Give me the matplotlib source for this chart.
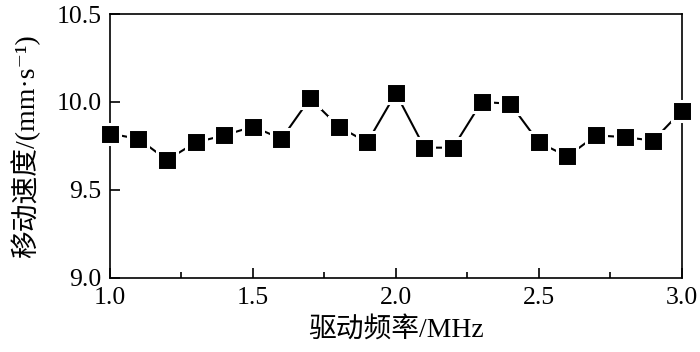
import matplotlib
matplotlib.use('Agg')
import matplotlib.pyplot as plt
from matplotlib.ticker import MultipleLocator

plt.rcParams['font.family'] = ['Liberation Serif', 'Noto Sans CJK SC', 'DejaVu Serif']

# drive frequency (MHz) and moving speed (mm/s)
freq = [1.0, 1.1, 1.2, 1.3, 1.4, 1.5, 1.6, 1.7, 1.8, 1.9, 2.0,
        2.1, 2.2, 2.3, 2.4, 2.5, 2.6, 2.7, 2.8, 2.9, 3.0]
speed = [9.82, 9.79, 9.67, 9.77, 9.81, 9.86, 9.79, 10.02, 9.86, 9.77, 10.05,
         9.74, 9.74, 10.00, 9.99, 9.77, 9.69, 9.81, 9.80, 9.78, 9.95]

fig = plt.figure(figsize=(7, 3.52), dpi=100)
ax = fig.add_axes([0.157, 0.211, 0.817, 0.749])

# white marker edge gives the small gap between line and squares
ax.plot(freq, speed, '-', color='black', lw=1.5, marker='s', ms=14,
        mfc='black', mec='white', mew=2.2, clip_on=False, zorder=3)

ax.set_xlim(1.0, 3.0)
ax.set_ylim(9.0, 10.5)
ax.xaxis.set_major_locator(MultipleLocator(0.5))
ax.xaxis.set_minor_locator(MultipleLocator(0.25))
ax.yaxis.set_major_locator(MultipleLocator(0.5))
ax.xaxis.set_major_formatter(plt.FormatStrFormatter('%.1f'))
ax.yaxis.set_major_formatter(plt.FormatStrFormatter('%.1f'))

ax.tick_params(axis='both', which='major', direction='in', length=7.5, width=1.2,
               labelsize=18.5, pad=6)
ax.tick_params(axis='x', which='major', pad=7)
ax.tick_params(axis='x', which='minor', direction='in', length=4.5, width=1.2)
for s in ax.spines.values():
    s.set_linewidth(1.2)

ax.set_xlabel('驱动频率/MHz', fontsize=20, labelpad=5)
ax.set_ylabel('移动速度/(mm·s⁻¹)', fontsize=20, labelpad=12)

fig.savefig('out.png', dpi=100)
